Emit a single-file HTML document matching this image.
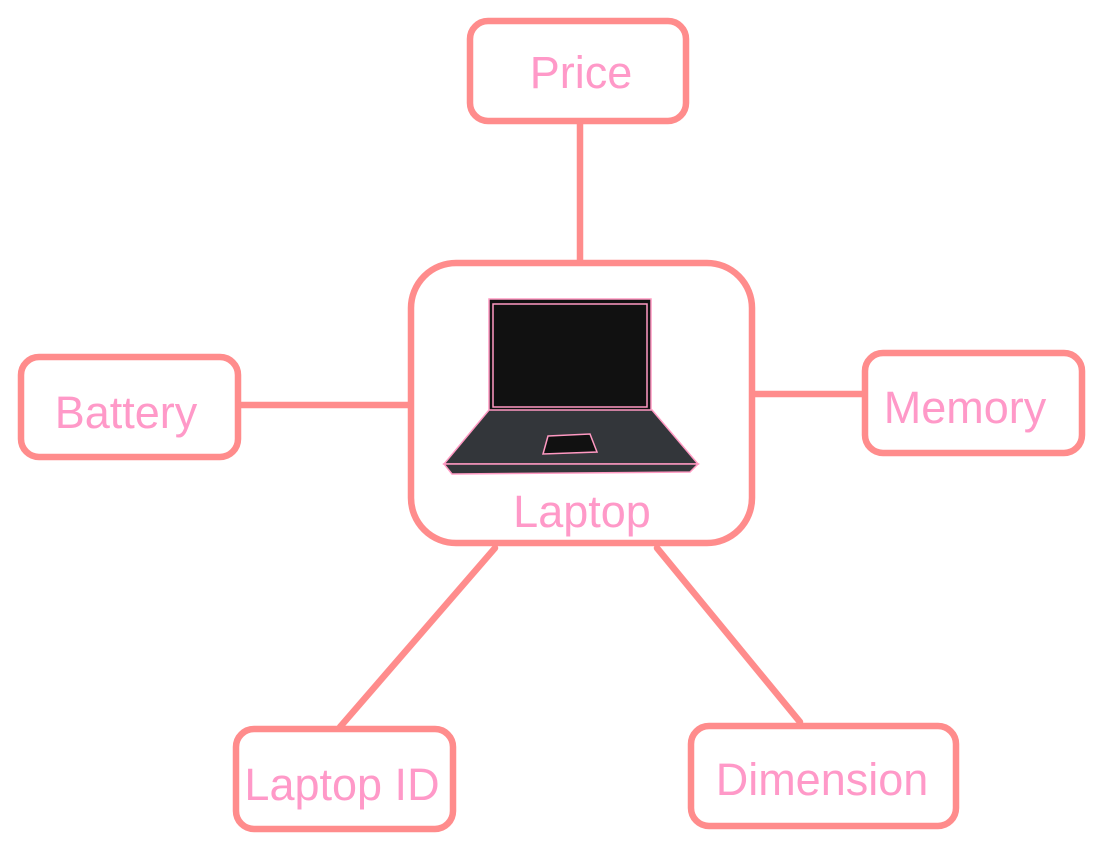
<!DOCTYPE html>
<html><head><style>html,body{margin:0;padding:0;background:#fff}svg{display:block}</style></head>
<body>
<svg width="1104" height="853" viewBox="0 0 1104 853" xmlns="http://www.w3.org/2000/svg">
<g stroke="#FF8C8C" stroke-width="6.5" fill="none" stroke-linecap="round">
<line x1="580" y1="124" x2="580" y2="262"/>
<line x1="241" y1="405" x2="408" y2="405"/>
<line x1="755" y1="394" x2="862" y2="394"/>
<line x1="340" y1="727" x2="495" y2="548"/>
<line x1="800" y1="722" x2="657" y2="548"/>
<rect x="470" y="21" width="216" height="100" rx="18" fill="#fff"/>
<rect x="411" y="263" width="341" height="280" rx="45" fill="#fff"/>
<rect x="21" y="357" width="217" height="100" rx="18" fill="#fff"/>
<rect x="865" y="353" width="217" height="100" rx="18" fill="#fff"/>
<rect x="236" y="729" width="217" height="100" rx="18" fill="#fff"/>
<rect x="691" y="726" width="265" height="100" rx="18" fill="#fff"/>
</g>
<g stroke="#FF99C2" stroke-width="1.5">
<rect x="489" y="299" width="162" height="112" fill="#111"/>
<rect x="493" y="304" width="154" height="103" fill="#111"/>
<polygon points="489,410 652,410 698,464 444,464" fill="#33363a"/>
<polygon points="444,464 698,464 690,472 452,474" fill="#33363a"/>
<polygon points="548,436 590,434 597,452 543,454" fill="#111"/>
</g>
<g font-family="Liberation Sans, sans-serif" font-size="45" fill="#FF99C8" text-anchor="middle">
<text x="581" y="88">Price</text>
<text x="582" y="527">Laptop</text>
<text x="126" y="428">Battery</text>
<text x="965" y="423">Memory</text>
<text x="342" y="800">Laptop ID</text>
<text x="822" y="795">Dimension</text>
</g>
</svg>
</body></html>
